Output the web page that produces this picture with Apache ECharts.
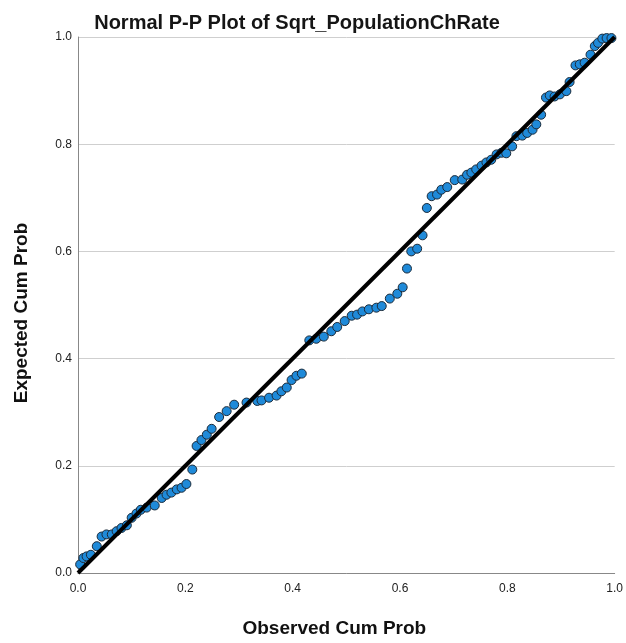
<!DOCTYPE html>
<html>
<head>
<meta charset="utf-8">
<script src="https://cdn.jsdelivr.net/npm/echarts@6/dist/echarts.min.js"></script>
<style>html,body{margin:0;padding:0;background:#fff}#c{width:626px;height:643px}</style>
</head>
<body>
<div id="c"></div>
<script>
const titleText = 'Normal P-P Plot of Sqrt_PopulationChRate';
const xAxisTitle = 'Observed Cum Prob';
const yAxisTitle = 'Expected Cum Prob';
const tickValues = [0, 0.2, 0.4, 0.6, 0.8, 1.0];
const observed = [0.004,0.010,0.016,0.024,0.035,0.044,0.053,0.063,0.072,0.081,0.091,0.100,0.109,0.117,0.128,0.143,0.156,0.165,0.174,0.184,0.193,0.202,0.213,0.221,0.230,0.240,0.249,0.263,0.277,0.291,0.314,0.334,0.342,0.356,0.370,0.379,0.389,0.398,0.407,0.417,0.431,0.444,0.458,0.472,0.483,0.497,0.510,0.520,0.530,0.542,0.556,0.566,0.581,0.595,0.605,0.613,0.621,0.632,0.642,0.650,0.659,0.669,0.677,0.688,0.702,0.716,0.725,0.733,0.742,0.752,0.761,0.770,0.780,0.789,0.798,0.809,0.817,0.828,0.837,0.847,0.854,0.863,0.872,0.879,0.888,0.898,0.910,0.916,0.927,0.935,0.944,0.955,0.963,0.969,0.977,0.985,0.994];
const expected = [0.016,0.028,0.031,0.034,0.050,0.068,0.072,0.072,0.078,0.084,0.089,0.103,0.111,0.118,0.122,0.126,0.140,0.146,0.150,0.156,0.159,0.166,0.193,0.237,0.248,0.258,0.269,0.291,0.302,0.314,0.318,0.321,0.322,0.327,0.331,0.339,0.346,0.360,0.368,0.372,0.434,0.437,0.441,0.451,0.459,0.470,0.480,0.482,0.488,0.492,0.495,0.498,0.512,0.521,0.533,0.568,0.600,0.605,0.630,0.681,0.703,0.706,0.715,0.720,0.733,0.734,0.743,0.747,0.753,0.760,0.766,0.771,0.781,0.784,0.783,0.796,0.815,0.816,0.821,0.827,0.837,0.855,0.887,0.891,0.889,0.893,0.899,0.916,0.947,0.949,0.952,0.967,0.983,0.989,0.997,0.998,0.998];
const refLine = [[0,0],[1,1]];

const pts = observed.map((x,i)=>[x, expected[i]]);
const chart = echarts.init(document.getElementById('c'), null, {renderer:'canvas'});
const font = 'Liberation Sans, Arial, sans-serif';
chart.setOption({
  animation:false,
  backgroundColor:'#fff',
  title:{text:titleText, left:292, top:8, textAlign:'center',
    textStyle:{fontFamily:font,fontSize:20,fontWeight:'bold',color:'#151515'}},
  grid:{left:78,right:11,top:37,bottom:70},
  xAxis:{type:'value',min:0,max:1,interval:0.2,
    name:xAxisTitle,nameLocation:'middle',nameGap:46,
    nameTextStyle:{fontFamily:font,fontSize:19,fontWeight:'bold',color:'#111',padding:[0,24,0,0]},
    axisLine:{show:true,lineStyle:{color:'#888',width:1}},
    axisTick:{show:false},splitLine:{show:false},
    axisLabel:{fontFamily:font,fontSize:12,color:'#222',margin:10,formatter:v=>v.toFixed(1)}},
  yAxis:{type:'value',min:0,max:1,interval:0.2,
    name:yAxisTitle,nameLocation:'middle',nameGap:47,
    nameTextStyle:{fontFamily:font,fontSize:19,fontWeight:'bold',color:'#111',padding:[0,16,0,0]},
    axisLine:{show:true,lineStyle:{color:'#888',width:1}},
    axisTick:{show:false},
    splitLine:{show:true,lineStyle:{color:'#cfcfcf',width:1}},
    axisLabel:{fontFamily:font,fontSize:12,color:'#222',margin:6,formatter:v=>v.toFixed(1)}},
  series:[
    {type:'scatter',data:pts,symbol:'circle',symbolSize:9,z:2,
      itemStyle:{color:'#1f8ad9',borderColor:'#1c2b3a',borderWidth:1,opacity:1}},
    {type:'line',data:refLine,symbol:'none',z:3,silent:true,
      lineStyle:{color:'#000',width:4}}
  ]
});
</script>
</body>
</html>
